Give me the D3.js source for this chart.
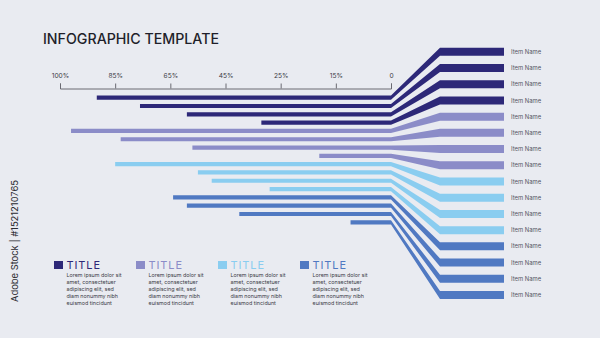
<!DOCTYPE html>
<html>
<head>
<meta charset="utf-8">
<script src="https://cdn.jsdelivr.net/npm/d3@7"></script>
<style>
  html, body { margin: 0; padding: 0; background: #e9ebf1; }
  svg { display: block; }
  text { font-family: Inter, "Noto Sans", sans-serif; }
</style>
</head>
<body>
<svg id="chart" width="600" height="338"></svg>
<script>
// ---- data ----
const categories = ["Item Name", "Item Name", "Item Name", "Item Name",
                    "Item Name", "Item Name", "Item Name", "Item Name",
                    "Item Name", "Item Name", "Item Name", "Item Name",
                    "Item Name", "Item Name", "Item Name", "Item Name"];
const values = [90, 76, 59, 32, 97, 83, 57, 18, 85, 55, 50, 29, 64, 59, 40, 11];
const groupOf = [0, 0, 0, 0, 1, 1, 1, 1, 2, 2, 2, 2, 3, 3, 3, 3];
const tickValues = [100, 85, 65, 45, 25, 15, 0];
const groupTitles = ["TITLE", "TITLE", "TITLE", "TITLE"];
const groupColors = ["#2d2878", "#8b8cc8", "#8acdf0", "#5079c2"];
const loremLines = ["Lorem ipsum dolor sit", "amet, consectetuer", "adipiscing elit, sed",
                    "diam nonummy nibh", "euismod tincidunt"];

const svg = d3.select("#chart");

// title
svg.append("text")
  .attr("x", 43).attr("y", 43.5)
  .attr("font-size", 14.2).attr("font-weight", 500)
  .attr("fill", "#1f1f2a")
  .text("INFOGRAPHIC TEMPLATE");

// piecewise scale: tick labels sit at even intervals along the axis
const axisLeft = 60, axisRight = 391;
const tickPos = tickValues.map((_, i) => axisLeft + i * (axisRight - axisLeft) / (tickValues.length - 1));
const x = d3.scaleLinear().domain(tickValues).range(tickPos);

const axis = d3.axisTop(x)
  .tickValues(tickValues)
  .tickSize(5).tickSizeOuter(5).tickPadding(6)
  .tickFormat(d => d === 0 ? "0" : d + "%");

const gAxis = svg.append("g")
  .attr("transform", "translate(0,88.5)")
  .call(axis);
gAxis.select(".domain").attr("stroke", "#6a6a72");
gAxis.selectAll(".tick line").attr("stroke", "#6a6a72");
gAxis.selectAll(".tick text")
  .attr("font-family", "Inter, sans-serif")
  .attr("font-size", 6.6).attr("fill", "#3a3a44");

// row positions: thin bars on the left, thick bars on the right
const idx = d3.range(categories.length);
const yLeft = d3.scalePoint().domain(idx).range([97.7, 222.3]);
const yRight = d3.scalePoint().domain(idx).range([51.8, 295]);

const bendStart = axisRight, bendEnd = 440, barEnd = 504;
const thin = 2.1, thick = 4;

const line = d3.line();
svg.append("g").selectAll("path")
  .data(idx)
  .join("path")
  .attr("fill", i => groupColors[groupOf[i]])
  .attr("d", i => {
    const x0 = x(values[i]), yl = yLeft(i), yr = yRight(i);
    return line([
      [x0, yl - thin], [bendStart, yl - thin], [bendEnd, yr - thick], [barEnd, yr - thick],
      [barEnd, yr + thick], [bendEnd, yr + thick], [bendStart, yl + thin], [x0, yl + thin]
    ]) + "Z";
  });

// item labels
svg.append("g").selectAll("text")
  .data(idx)
  .join("text")
  .attr("x", 511)
  .attr("y", i => yRight(i) + 2.1)
  .attr("font-size", 5.9).attr("fill", "#55555f")
  .text(i => categories[i]);

// legend
const legendX = [54, 136, 218, 300];
const legend = svg.append("g").selectAll("g")
  .data(groupTitles)
  .join("g")
  .attr("transform", (d, i) => `translate(${legendX[i]},0)`);

legend.append("rect")
  .attr("x", 0).attr("y", 261).attr("width", 9).attr("height", 8)
  .attr("fill", (d, i) => groupColors[i]);

legend.append("text")
  .attr("x", 12.5).attr("y", 269.2)
  .attr("font-size", 11).attr("letter-spacing", 0.9)
  .attr("fill", (d, i) => groupColors[i])
  .text(d => d);

legend.append("g").selectAll("text")
  .data(loremLines)
  .join("text")
  .attr("x", 12.5)
  .attr("y", (d, j) => 277.4 + j * 6.8)
  .attr("font-size", 5.4).attr("fill", "#3c3c46")
  .text(d => d);

// vertical credit line
svg.append("text")
  .attr("transform", "translate(18,241) rotate(-90)")
  .attr("text-anchor", "middle")
  .attr("font-family", "'Open Sans', sans-serif")
  .attr("font-size", 9.4).attr("fill", "#2a2a30")
  .text("Adobe Stock | #1521210765");
</script>
</body>
</html>
